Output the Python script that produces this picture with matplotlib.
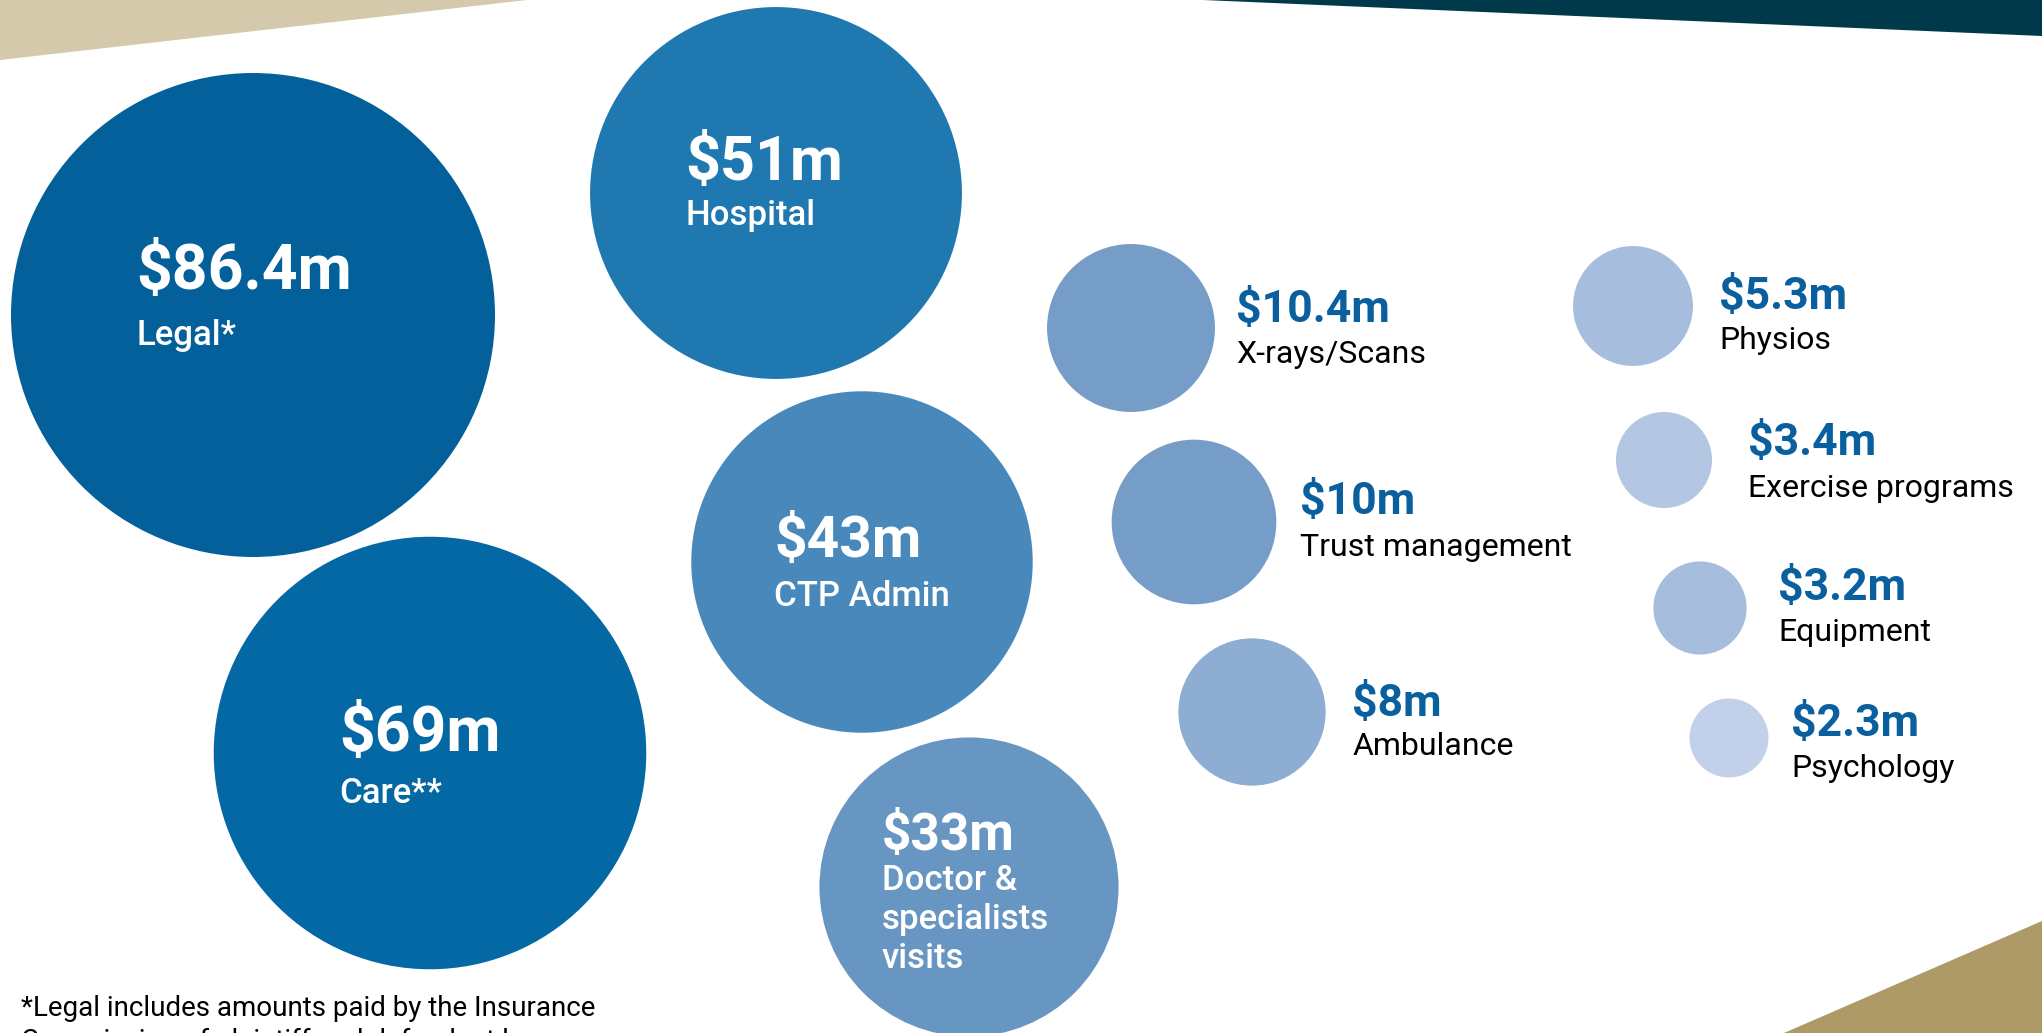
import numpy as np
import matplotlib
matplotlib.use("Agg")
import matplotlib.pyplot as plt
from matplotlib.patches import Circle, Polygon

# ---------------- data ----------------
categories = ["Legal*", "Care**", "Hospital", "CTP Admin",
              "Doctor &\nspecialists\nvisits", "X-rays/Scans",
              "Trust management", "Ambulance", "Physios",
              "Exercise programs", "Equipment", "Psychology"]
values = [86.4, 69, 51, 43, 33, 10.4, 10, 8, 5.3, 3.4, 3.2, 2.3]
value_labels = ["$86.4m", "$69m", "$51m", "$43m", "$33m", "$10.4m",
                "$10m", "$8m", "$5.3m", "$3.4m", "$3.2m", "$2.3m"]
footnote = ["*Legal includes amounts paid by the Insurance",
            "Commission of plaintiff and defendant lawyers"]

# ---------------- layout / style ----------------
W, H = 2042, 1033
centers_x = [253, 430, 776, 862, 969, 1131, 1194, 1252, 1633, 1664, 1700, 1729]
centers_y = [315, 753, 193, 562, 887, 328, 522, 712, 306, 460, 608, 738]
colors = ["#03609B", "#0468A5", "#1F78B0", "#4888BB", "#6796C3", "#769DC8",
          "#769DC8", "#8EADD3", "#A6BDDD", "#B4C7E2", "#A7BDDD", "#C2D1E9"]
inside = [True, True, True, True, True, False, False, False, False, False, False, False]
text_x = [136, 339, 685, 774, 882, 1236, 1300, 1352, 1719, 1748, 1778, 1791]
value_base = [289, 751, 180, 557, 850, 322, 514, 716, 309, 455, 600, 736]
label_base = [345, 803, 225, 606, 890, 363, 556, 755, 349, 497, 641, 777]
value_fs = [45, 45, 44, 41, 37, 32, 32, 32, 32, 32, 32, 32]
R_MAX = 242.0
FONT = ["Roboto", "DejaVu Sans"]

fig = plt.figure(figsize=(W / 100, H / 100), dpi=100)
ax = fig.add_axes([0, 0, 1, 1])
ax.set_xlim(0, W)
ax.set_ylim(H, 0)
ax.set_aspect("equal")
ax.axis("off")

# decorative corner shapes
ax.add_patch(Polygon([[0, 0], [527, 0], [0, 60]], closed=True,
                     facecolor="#D5C9AB", edgecolor="none"))
ax.add_patch(Polygon([[1203, 0], [W, 0], [W, 36]], closed=True,
                     facecolor="#003A4A", edgecolor="none"))
ax.add_patch(Polygon([[1784, H], [W, 921], [W, H]], closed=True,
                     facecolor="#AD9A66", edgecolor="none"))

vmax = max(values)
for i, v in enumerate(values):
    r = R_MAX * np.sqrt(v / vmax)
    ax.add_patch(Circle((centers_x[i], centers_y[i]), r,
                        facecolor=colors[i], edgecolor="none"))
    if inside[i]:
        vcol, lcol, lfs, lw = "white", "white", 25, "medium"
    else:
        vcol, lcol, lfs, lw = "#0A5F9E", "black", 23, "normal"
    ax.text(text_x[i], value_base[i], value_labels[i], color=vcol,
            fontsize=value_fs[i], fontweight="bold", family=FONT,
            ha="left", va="baseline", parse_math=False)
    for j, line in enumerate(categories[i].split("\n")):
        ax.text(text_x[i], label_base[i] + j * 39, line, color=lcol,
                fontsize=lfs, fontweight=lw, family=FONT,
                ha="left", va="baseline", parse_math=False)

for j, line in enumerate(footnote):
    ax.text(21, 1016 + j * 33, line, color="black", fontsize=20,
            family=FONT, ha="left", va="baseline", parse_math=False,
            clip_on=False)

fig.savefig("out.png", dpi=100, facecolor="white")
